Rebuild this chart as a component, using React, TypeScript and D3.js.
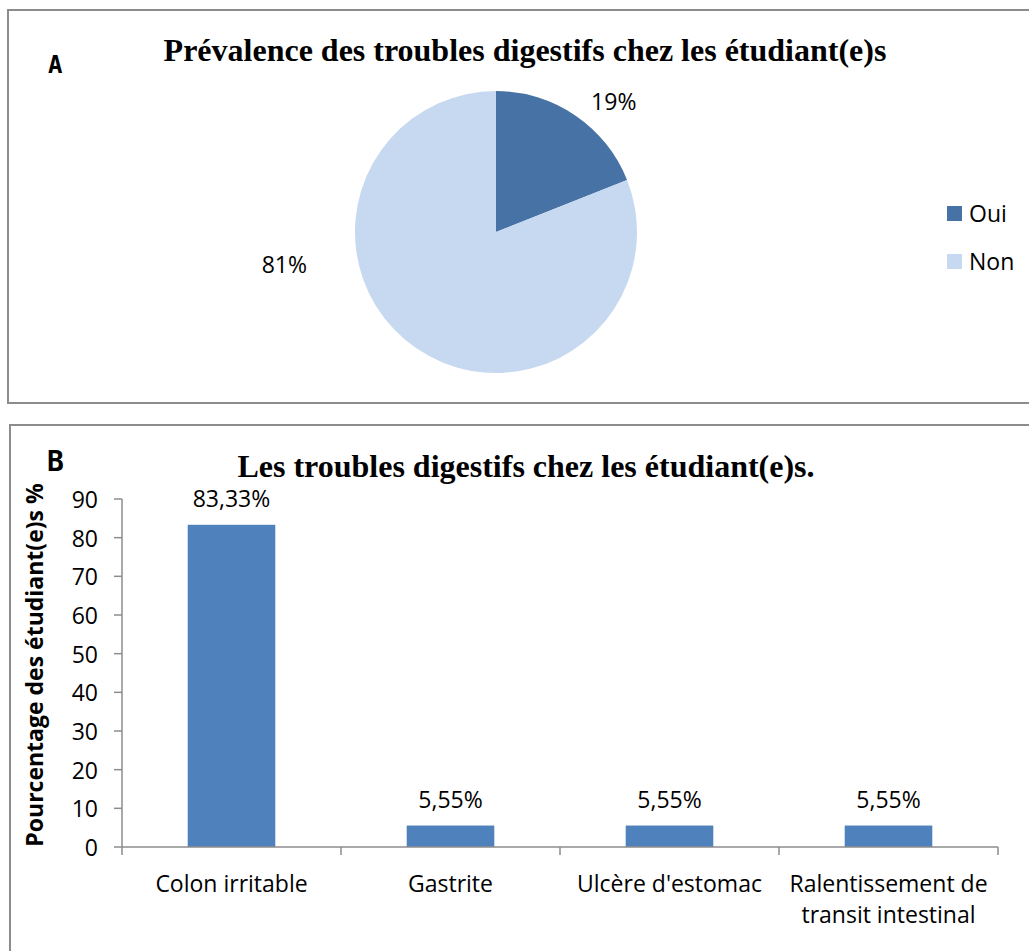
import React from "react";
import * as d3 from "d3";

const pieLabels = ["Oui", "Non"];
const pieValues = [19, 81];
const pieValueLabels = ["19%", "81%"];
const pieColors = ["#4672A6", "#C6D9F0"];

const categories = ["Colon irritable", "Gastrite", "Ulcère d'estomac", "Ralentissement de transit intestinal"];
const categoryLines = [["Colon irritable"], ["Gastrite"], ["Ulcère d'estomac"], ["Ralentissement de", "transit intestinal"]];
const barValues = [83.33, 5.55, 5.55, 5.55];
const barValueLabels = ["83,33%", "5,55%", "5,55%", "5,55%"];
const yTicks = [0, 10, 20, 30, 40, 50, 60, 70, 80, 90];

const titleA = "Prévalence des troubles digestifs chez les étudiant(e)s";
const titleB = "Les troubles digestifs chez les étudiant(e)s.";
const yTitle = "Pourcentage des étudiant(e)s %";

const SANS = "'Open Sans', 'Noto Sans', sans-serif";
const SERIF = "'Liberation Serif', 'Times New Roman', serif";
const BORDER = "#8c8c8c";
const AXIS = "#8c8c8c";
const FS = 23;

export default function App() {
  // Pie
  const cx = 496, cy = 232, r = 141;
  const pie = d3.pie<number>().sort(null).startAngle(0).endAngle(2 * Math.PI);
  const arcs = pie(pieValues);
  const arcGen = d3.arc<d3.PieArcDatum<number>>().innerRadius(0).outerRadius(r);
  // label placement (angle in degrees clockwise from 12 o'clock, distance from centre)
  const labelPolar = [
    { a: 42, d: 176 },
    { a: 261.5, d: 214 },
  ];

  // Bars
  const x = d3.scaleBand<string>().domain(categories).range([122, 998]).paddingInner(0.6).paddingOuter(0.3);
  const y = d3.scaleLinear().domain([0, 90]).range([847, 499]);
  const step = x.step();
  const boundaries = d3.range(categories.length + 1).map((i) => 122 + i * step);

  return (
    <svg
      width={1029}
      height={951}
      style={{ position: "absolute", left: 0, top: 0, background: "#fff" }}
    >
      <rect x={0} y={0} width={1029} height={951} fill="#fff" />
      {/* Panel A */}
      <rect x={8} y={10} width={1040} height={393} fill="#fff" stroke={BORDER} strokeWidth={2} />
      <text x={48} y={73} fontFamily="'DejaVu Sans Mono', monospace" fontWeight="bold" fontSize={24} fill="#000">A</text>
      <text x={525} y={61} textAnchor="middle" fontFamily={SERIF} fontWeight="bold" fontSize={32} fill="#000">{titleA}</text>
      <g transform={`translate(${cx},${cy})`}>
        {arcs.map((a, i) => (
          <path key={i} d={arcGen(a) || ""} fill={pieColors[i]} />
        ))}
        {arcs.map((a, i) => {
          const ang = (labelPolar[i].a * Math.PI) / 180;
          const lx = Math.sin(ang) * labelPolar[i].d;
          const ly = -Math.cos(ang) * labelPolar[i].d;
          return (
            <text key={i} x={lx} y={ly} textAnchor="middle" dominantBaseline="central" fontFamily={SANS} fontSize={FS} fill="#000">
              {pieValueLabels[i]}
            </text>
          );
        })}
      </g>
      {pieLabels.map((l, i) => (
        <g key={l} transform={`translate(947,${206 + i * 48})`}>
          <rect x={0} y={0} width={15} height={15} fill={pieColors[i]} />
          <text x={22} y={16} fontFamily={SANS} fontSize={FS} fill="#000">{l}</text>
        </g>
      ))}

      {/* Panel B */}
      <rect x={10} y={425} width={1040} height={540} fill="#fff" stroke={BORDER} strokeWidth={2} />
      <text x={47} y={471} fontFamily="'DejaVu Sans Mono', monospace" fontWeight="bold" fontSize={28} fill="#000">B</text>
      <text x={526} y={477} textAnchor="middle" fontFamily={SERIF} fontWeight="bold" fontSize={32} fill="#000">{titleB}</text>
      <text
        transform={`translate(43,${(y(0) + y(90)) / 2 - 8}) rotate(-90)`}
        textAnchor="middle"
        fontFamily={SANS}
        fontWeight="bold"
        fontSize={FS}
        fill="#000"
      >
        {yTitle}
      </text>
      {/* y axis */}
      <line x1={122} x2={122} y1={y(90)} y2={y(0)} stroke={AXIS} strokeWidth={1.5} />
      {yTicks.map((t) => (
        <g key={t}>
          <line x1={114} x2={122} y1={y(t)} y2={y(t)} stroke={AXIS} strokeWidth={1.5} />
          <text x={98} y={y(t)} textAnchor="end" dominantBaseline="central" fontFamily={SANS} fontSize={FS} fill="#000">
            {t}
          </text>
        </g>
      ))}
      {/* bars */}
      {categories.map((c, i) => (
        <rect key={c} x={x(c)} y={y(barValues[i])} width={x.bandwidth()} height={y(0) - y(barValues[i])} fill="#4F81BD" />
      ))}
      {categories.map((c, i) => (
        <text key={c} x={(x(c) || 0) + x.bandwidth() / 2} y={y(barValues[i]) - 18} textAnchor="middle" fontFamily={SANS} fontSize={FS} fill="#000">
          {barValueLabels[i]}
        </text>
      ))}
      {/* x axis */}
      <line x1={122} x2={998} y1={y(0)} y2={y(0)} stroke={AXIS} strokeWidth={1.5} />
      {boundaries.map((b, i) => (
        <line key={i} x1={b} x2={b} y1={y(0)} y2={y(0) + 8} stroke={AXIS} strokeWidth={1.5} />
      ))}
      {categories.map((c, i) => (
        <text key={c} textAnchor="middle" fontFamily={SANS} fontSize={FS} fill="#000">
          {categoryLines[i].map((ln, j) => (
            <tspan key={j} x={(x(c) || 0) + x.bandwidth() / 2} y={892 + j * 31}>{ln}</tspan>
          ))}
        </text>
      ))}
    </svg>
  );
}
